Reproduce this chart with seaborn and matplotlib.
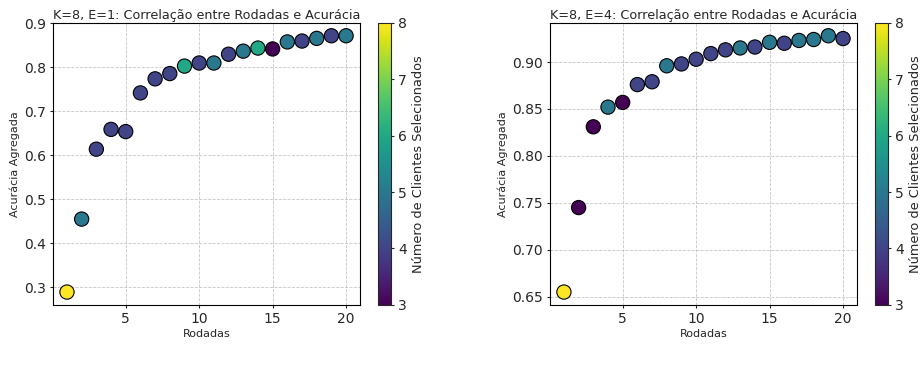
import numpy as np
import pandas as pd
import matplotlib
matplotlib.use("Agg")
import matplotlib.pyplot as plt
import seaborn as sns

# Rodadas 1..20
rodadas = list(range(1, 21))

# E=1
acc_e1 = [0.289, 0.455, 0.614, 0.659, 0.654, 0.742, 0.774, 0.786, 0.803, 0.810,
          0.810, 0.830, 0.837, 0.844, 0.842, 0.858, 0.860, 0.866, 0.872, 0.872]
clientes_e1 = [8, 5, 4, 4, 4, 4, 4, 4, 6, 4, 5, 4, 5, 6, 3, 5, 4, 5, 4, 5]

# E=4
acc_e4 = [0.655, 0.745, 0.831, 0.852, 0.857, 0.876, 0.879, 0.896, 0.898, 0.903,
          0.909, 0.913, 0.915, 0.916, 0.921, 0.920, 0.923, 0.924, 0.928, 0.925]
clientes_e4 = [8, 3, 3, 5, 3, 4, 4, 5, 4, 4, 4, 4, 5, 4, 5, 4, 5, 5, 5, 4]

titulos = ["K=8, E=1: Correlação entre Rodadas e Acurácia",
           "K=8, E=4: Correlação entre Rodadas e Acurácia"]

sns.set_style("white")
plt.rcParams["font.family"] = ["DejaVu Sans"]

fig = plt.figure(figsize=(9.22, 3.70), dpi=100)
ax_pos = [[0.0575, 0.176, 0.333, 0.762], [0.5965, 0.176, 0.333, 0.762]]
cb_pos = [[0.410, 0.176, 0.0141, 0.762], [0.949, 0.176, 0.0141, 0.762]]

norm = plt.Normalize(3, 8)
dados = [(acc_e1, clientes_e1), (acc_e4, clientes_e4)]

for i, (acc, cli) in enumerate(dados):
    df = pd.DataFrame({"Rodadas": rodadas, "Acuracia": acc, "Clientes": cli})
    ax = fig.add_axes(ax_pos[i])
    sns.scatterplot(data=df, x="Rodadas", y="Acuracia", hue="Clientes",
                    palette="viridis", hue_norm=norm, s=105, edgecolor="black",
                    linewidth=0.8, legend=False, ax=ax, zorder=3)
    ax.set_title(titulos[i], fontsize=9.2, pad=3)
    ax.set_xlabel("Rodadas", fontsize=8, labelpad=2)
    ax.set_ylabel("Acurácia Agregada", fontsize=8, labelpad=3)
    ax.tick_params(axis="both", labelsize=10, left=True, bottom=True,
                   length=2.5, pad=2.5)
    ax.set_xticks([5, 10, 15, 20])
    ax.grid(True, linestyle="--", linewidth=0.6, color="#c0c0c0", alpha=0.9)
    for sp in ax.spines.values():
        sp.set_color("black")
        sp.set_linewidth(0.8)

    cax = fig.add_axes(cb_pos[i])
    sm = plt.cm.ScalarMappable(cmap="viridis", norm=norm)
    sm.set_array([])
    cb = fig.colorbar(sm, cax=cax)
    cb.set_label("Número de Clientes Selecionados", fontsize=9.3, labelpad=4)
    cb.ax.tick_params(labelsize=10, length=2.5, pad=2.5)
    cb.outline.set_linewidth(0.8)

fig.savefig("out.png", dpi=100)
